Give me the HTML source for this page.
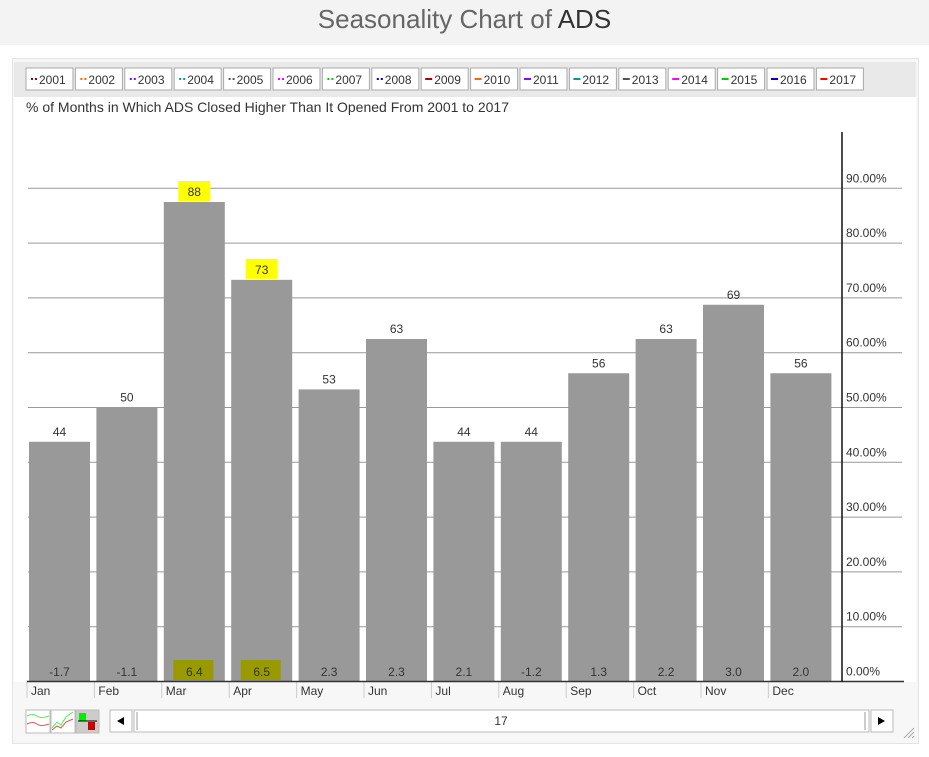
<!DOCTYPE html>
<html><head><meta charset="utf-8"><style>
body{margin:0;width:929px;height:757px;background:#fff;font-family:"Liberation Sans",sans-serif;overflow:hidden;position:relative}
#titlebar{position:absolute;left:0;top:0;width:929px;height:45px;background:#f3f3f3;text-align:center;font-size:26px;line-height:38px;color:#666}
#titlebar b{font-weight:normal;color:#333}
#panel{position:absolute;left:12px;top:58px;width:905px;height:684px;background:#f7f7f7;border:1px solid #e4e4e4}
svg{position:absolute;left:0;top:0}
</style></head><body>
<div id="titlebar">Seasonality Chart of <b>ADS</b></div>
<div id="panel"></div>
<svg id="chart" width="929" height="757"></svg>
<script>
const months=["Jan","Feb","Mar","Apr","May","Jun","Jul","Aug","Sep","Oct","Nov","Dec"];
const pctUp=[43.75,50,87.5,73.3,53.3,62.5,43.75,43.75,56.25,62.5,68.75,56.25];
const avgRet=["-1.7","-1.1","6.4","6.5","2.3","2.3","2.1","-1.2","1.3","2.2","3.0","2.0"];
const highlighted=[2,3];
const yTicks=[0,10,20,30,40,50,60,70,80,90];
const years=["2001","2002","2003","2004","2005","2006","2007","2008","2009","2010","2011","2012","2013","2014","2015","2016","2017"];
const yearColors=["#a00","#f60","#90f","#099","#555","#f0f","#0c0","#00c","#a00","#f60","#90f","#099","#555","#f0f","#0c0","#00c","#f00"];

const NS="http://www.w3.org/2000/svg";
const svg=document.getElementById('chart');
function mk(tag,attrs,parent){const e=document.createElementNS(NS,tag);for(const k in attrs)e.setAttribute(k,attrs[k]);(parent||svg).appendChild(e);return e;}
const y0=681.5, pxPer=5.48;
const yScale=v=>y0-v*pxPer;
const xLeft=27, step=67.4;
const xBand=i=>xLeft+i*step;

// legend bar
const lg=mk('rect',{x:14,y:62,width:902,height:35,fill:'#e9e9e9'});


mk('rect',{x:14,y:97,width:902,height:585,fill:'#fff'});
years.forEach((yr,i)=>{
  const x=26+i*49.4;
  const g=mk('g',{});
  
  
  mk('rect',{x:x,y:68,width:47,height:22,fill:'#fff',stroke:'#aaa'},g);
  if(i<8){mk('rect',{x:x+5,y:78,width:2,height:2,fill:yearColors[i]},g);mk('rect',{x:x+9,y:78,width:2,height:2,fill:yearColors[i]},g);}
  else mk('rect',{x:x+4,y:78,width:7,height:2,fill:yearColors[i]},g);
  const t=mk('text',{x:x+13,y:84,'font-size':12,fill:'#333'},g);t.textContent=yr;
});
const sub=mk('text',{x:26,y:112,'font-size':14,fill:'#333'});
sub.textContent="% of Months in Which ADS Closed Higher Than It Opened From 2001 to 2017";



// gridlines & ticks
yTicks.forEach(v=>{
  const y=yScale(v);
  if(v>0){const l=mk('line',{x1:28,x2:902,y1:y,y2:y,stroke:'#999','stroke-width':1});
  
  }
  const t=mk('text',{x:846,y:y-6,'font-size':12,fill:'#333'});t.textContent=v.toFixed(2)+'%';
  
  
});
// bars
months.forEach((m,i)=>{
  const x=xBand(i)+2, w=61, top=yScale(pctUp[i]);
  const b=mk('rect',{x:x,y:top,width:w,height:y0-top,fill:'#999'});
  
  
  const cx=x+w/2;
  if(highlighted.includes(i)){mk('rect',{x:cx-16,y:top-21,width:32,height:20,fill:'#ffff00'});
    mk('rect',{x:cx-21,y:660,width:40,height:20,fill:'#999900'});}
  const lt=mk('text',{x:cx,y:top-6,'font-size':12,fill:'#333','text-anchor':'middle'});lt.textContent=Math.round(pctUp[i]);
  
  
  const rt=mk('text',{x:cx,y:676,'font-size':12,fill:'#333','text-anchor':'middle'});rt.textContent=avgRet[i];
  
  
  mk('line',{x1:xBand(i),x2:xBand(i),y1:682,y2:698,stroke:'#ccc'});
  const ml=mk('text',{x:xBand(i)+4,y:695,'font-size':12,fill:'#333'});ml.textContent=m;
  
  
});
mk('line',{x1:27,x2:904,y1:681.5,y2:681.5,stroke:'#333','stroke-width':1.5});
const ax=mk('line',{x1:842,x2:842,y1:132,y2:682,stroke:'#111','stroke-width':1.5});



// bottom controls
const ic1=mk('g',{});
mk('rect',{x:26,y:710,width:24,height:23,fill:'#fff',stroke:'#bbb'},ic1);
mk('path',{d:'M27 716 q6 -3 10 0 t12 0',stroke:'#5e5',fill:'none'},ic1);
mk('path',{d:'M27 724 q6 -3 10 0 t12 0',stroke:'#d55',fill:'none'},ic1);
const ic2=mk('g',{});
mk('rect',{x:51,y:710,width:24,height:23,fill:'#fff',stroke:'#bbb'},ic2);
mk('path',{d:'M52 728 l5 -6 l4 3 l5 -8 l7 -5',stroke:'#5e5',fill:'none'},ic2);
mk('path',{d:'M52 730 l5 -4 l4 2 l5 -6 l7 -3',stroke:'#d55',fill:'none'},ic2);
const ic3=mk('g',{});
mk('rect',{x:76,y:710,width:23,height:23,fill:'#ccc',stroke:'#bbb'},ic3);
mk('rect',{x:79,y:713,width:7,height:8,fill:'#0e0'},ic3);
mk('line',{x1:78,x2:97,y1:721,y2:721,stroke:'#000'},ic3);
mk('rect',{x:88,y:722,width:7,height:8,fill:'#c00'},ic3);
const sl=mk('g',{});
mk('rect',{x:110,y:710,width:22,height:22,fill:'#fff',stroke:'#bbb'},sl);
mk('path',{d:'M117 721 l7 -4 v8z',fill:'#000'},sl);
mk('rect',{x:134,y:710,width:735,height:22,fill:'#fff',stroke:'#bbb'},sl);
mk('rect',{x:136,y:712,width:2,height:18,fill:'#ccc'},sl);
mk('rect',{x:864,y:712,width:2,height:18,fill:'#ccc'},sl);
mk('rect',{x:871,y:710,width:22,height:22,fill:'#fff',stroke:'#bbb'},sl);
mk('path',{d:'M885 721 l-7 -4 v8z',fill:'#000'},sl);
const st=mk('text',{x:501,y:725,'font-size':12,fill:'#333','text-anchor':'middle'},sl);st.textContent='17';
mk('path',{d:'M904 738 l10 -10 M908 738 l6 -6 M912 738 l2 -2',stroke:'#aaa'});
</script>
</body></html>
